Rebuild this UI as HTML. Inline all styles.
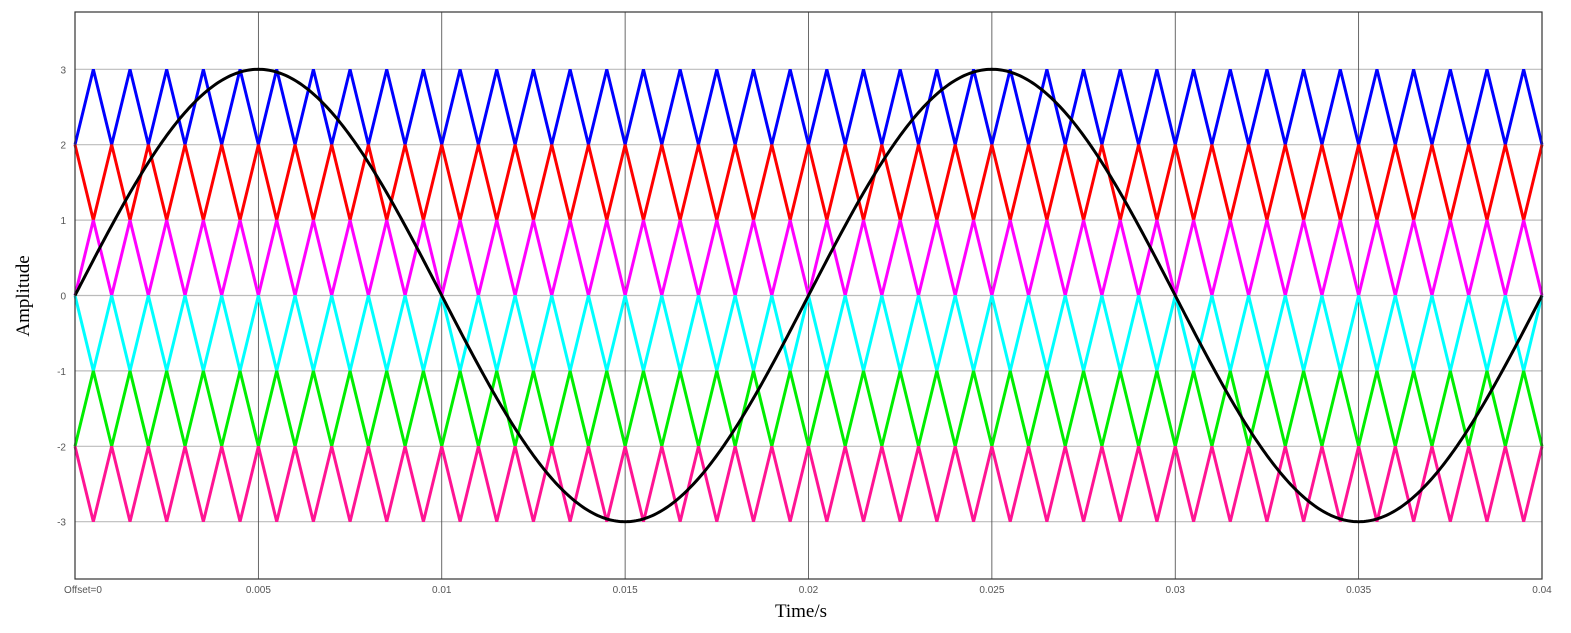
<!DOCTYPE html>
<html><head><meta charset="utf-8"><style>
html,body{margin:0;padding:0;background:#fff;}
svg{display:block;}
</style></head><body>
<svg id="chart" width="1571" height="633" xmlns="http://www.w3.org/2000/svg"></svg>
<script>
const xTicks = [0, 0.005, 0.01, 0.015, 0.02, 0.025, 0.03, 0.035, 0.04];
const xTickLabels = ["Offset=0", "0.005", "0.01", "0.015", "0.02", "0.025", "0.03", "0.035", "0.04"];
const yTicks = [3, 2, 1, 0, -1, -2, -3];
const yTickLabels = ["3", "2", "1", "0", "-1", "-2", "-3"];
const carrierLower = [2, 1, 0, -1, -2, -3];
const carrierStartsHigh = [false, true, false, true, false, true];
const carrierColors = ["#0000ff", "#ff0000", "#ff00ff", "#00ffff", "#00ee00", "#ff1493"];
const carrierNames = ["carrier-blue", "carrier-red", "carrier-magenta", "carrier-cyan", "carrier-green", "carrier-pink"];
const carrierFreq = [1000];
const sineAmp = [3];
const sineFreq = [50];
const tRange = [0, 0.04];
const yRange = [-3.76, 3.76];

const L = 75, R = 1542, T = 12, B = 579;
const X = t => L + (t - tRange[0]) / (tRange[1] - tRange[0]) * (R - L);
const Y = v => B - (v - yRange[0]) / (yRange[1] - yRange[0]) * (B - T);
const NS = "http://www.w3.org/2000/svg";
const svg = document.getElementById('chart');
function mk(tag, attrs, parent) {
  const e = document.createElementNS(NS, tag);
  for (const k in attrs) e.setAttribute(k, attrs[k]);
  (parent || svg).appendChild(e);
  return e;
}
// horizontal grid
yTicks.forEach((v, i) => {
  const l = mk('line', {x1: L, x2: R, y1: Y(v), y2: Y(v), stroke: '#bbbbbb', 'stroke-width': 1.2});
  
  
  const tx = mk('text', {x: 66, y: Y(v) + 4, 'text-anchor': 'end', 'font-family': 'Liberation Sans, sans-serif', 'font-size': 10, fill: '#555'});
  tx.textContent = yTickLabels[i];
  
  
});
// vertical grid
xTicks.forEach((t, i) => {
  const l = mk('line', {x1: X(t), x2: X(t), y1: T, y2: B, stroke: '#444', 'stroke-width': 0.8});
  
  
  const tx = mk('text', {x: i === 0 ? 83 : X(t), y: 593, 'text-anchor': 'middle', 'font-family': 'Liberation Sans, sans-serif', 'font-size': 10, fill: '#555'});
  tx.textContent = xTickLabels[i];
  
  
});
// carriers
const nPeriods = Math.round((tRange[1] - tRange[0]) * carrierFreq[0]);
carrierLower.forEach((lo, ci) => {
  const pts = [];
  for (let k = 0; k <= nPeriods * 2; k++) {
    const t = tRange[0] + k / (2 * carrierFreq[0]);
    const high = (k % 2 === 0) === carrierStartsHigh[ci];
    pts.push(X(t).toFixed(2) + ',' + Y(high ? lo + 1 : lo).toFixed(2));
  }
  const p = mk('polyline', {points: pts.join(' '), fill: 'none', stroke: carrierColors[ci], 'stroke-width': 3, 'stroke-linejoin': 'miter'});
  
  
});
// sine reference
const sp = [];
for (let i = 0; i <= 800; i++) {
  const t = tRange[0] + i / 800 * (tRange[1] - tRange[0]);
  sp.push(X(t).toFixed(2) + ',' + Y(sineAmp[0] * Math.sin(2 * Math.PI * sineFreq[0] * t)).toFixed(2));
}
const s = mk('polyline', {points: sp.join(' '), fill: 'none', stroke: '#000', 'stroke-width': 3});


// frame
const f = mk('rect', {x: L, y: T, width: R - L, height: B - T, fill: 'none', stroke: '#333', 'stroke-width': 1.2});


// axis titles
const xt = mk('text', {x: 801, y: 617, 'text-anchor': 'middle', 'font-family': 'Liberation Serif, serif', 'font-size': 19, fill: '#000'});
xt.textContent = 'Time/s';


const yt = mk('text', {x: 0, y: 0, 'text-anchor': 'middle', 'font-family': 'Liberation Serif, serif', 'font-size': 19, fill: '#000', transform: 'translate(29,296) rotate(-90)'});
yt.textContent = 'Amplitude';


</script>
</body></html>
